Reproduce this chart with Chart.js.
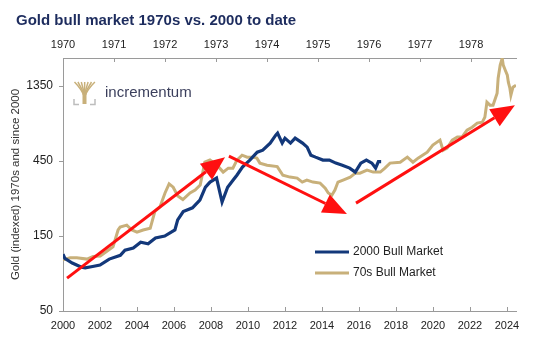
<!DOCTYPE html>
<html>
<head>
<meta charset="utf-8">
<script src="https://cdn.jsdelivr.net/npm/chart.js@4.4.0/dist/chart.umd.min.js"></script>
<style>
  html, body { margin: 0; padding: 0; background: #fff; }
</style>
</head>
<body>
<canvas id="chart" width="550" height="341"></canvas>
<script>
/* Gold bull market 1970s vs. 2000 to date (log scale) */
var chartTitle = 'Gold bull market 1970s vs. 2000 to date';
var yTitle = 'Gold (indexed) 1970s and since 2000';
var seriesNames = ['2000 Bull Market', '70s Bull Market'];

var yTicks = [50, 150, 450, 1350];
var bottomTicks = [2000, 2002, 2004, 2006, 2008, 2010, 2012, 2014, 2016, 2018, 2020, 2022, 2024];
var topTicks = [1970, 1971, 1972, 1973, 1974, 1975, 1976, 1977, 1978];

// 2000 bull market (bottom axis)
var blueYears = [2000.0, 2000.1, 2000.5, 2001.0, 2001.2, 2001.6, 2002.0, 2002.5, 2003.1, 2003.35,
  2003.8, 2004.2, 2004.6, 2005.0, 2005.5, 2006.05, 2006.2, 2006.5, 2007.0, 2007.4,
  2007.7, 2007.95, 2008.3, 2008.6, 2008.9, 2009.2, 2009.4, 2009.7, 2010.1, 2010.5,
  2010.8, 2011.2, 2011.5, 2011.6, 2011.85, 2012.0, 2012.3, 2012.55, 2012.95, 2013.2,
  2013.4, 2013.65, 2014.05, 2014.4, 2014.75, 2015.1, 2015.5, 2015.8, 2016.1, 2016.4,
  2016.7, 2016.9, 2017.05, 2017.2];
var blueValues = [115, 108, 101, 95, 94, 96, 98, 107, 113, 122,
  126, 137, 134, 146, 150, 164, 190, 215, 227, 254,
  307, 331, 351, 247, 307, 341, 366, 412, 457, 513,
  528, 586, 658, 678, 586, 630, 586, 630, 586, 552,
  491, 477, 457, 457, 437, 424, 406, 383, 437, 457,
  437, 406, 447, 447];

// 70s bull market (top axis)
var tanYears = [1970.00, 1970.14, 1970.27, 1970.47, 1970.59, 1970.73, 1970.86, 1970.98, 1971.08, 1971.12,
  1971.25, 1971.35, 1971.45, 1971.57, 1971.71, 1971.80, 1971.90, 1972.00, 1972.08, 1972.16,
  1972.25, 1972.35, 1972.49, 1972.59, 1972.69, 1972.78, 1972.88, 1973.02, 1973.14, 1973.24,
  1973.33, 1973.41, 1973.51, 1973.61, 1973.71, 1973.80, 1973.86, 1974.00, 1974.20, 1974.31,
  1974.45, 1974.59, 1974.69, 1974.78, 1974.90, 1975.04, 1975.14, 1975.20, 1975.27, 1975.33,
  1975.39, 1975.49, 1975.63, 1975.73, 1975.82, 1975.96, 1976.08, 1976.22, 1976.31, 1976.41,
  1976.61, 1976.75, 1976.86, 1976.96, 1977.14, 1977.25, 1977.39, 1977.45, 1977.53, 1977.63,
  1977.73, 1977.82, 1977.92, 1978.02, 1978.12, 1978.22, 1978.27, 1978.31, 1978.37, 1978.43,
  1978.51, 1978.53, 1978.57, 1978.61, 1978.63, 1978.67, 1978.71, 1978.73, 1978.76, 1978.78,
  1978.82, 1978.88];
var tanValues = [106, 109, 109, 107, 111, 112, 120, 128, 164, 171,
  176, 164, 159, 164, 168, 215, 230, 282, 322, 307,
  270, 256, 282, 294, 317, 443, 457, 424, 383, 406,
  406, 457, 491, 477, 477, 470, 437, 424, 415, 366,
  356, 351, 331, 341, 331, 326, 303, 282, 273, 294,
  331, 341, 356, 377, 377, 394, 383, 383, 406, 437,
  443, 477, 443, 470, 513, 569, 612, 528, 545, 612,
  640, 640, 708, 740, 785, 796, 857, 1068, 1022, 1022,
  1218, 1518, 1837, 2033, 1837, 1706, 1586, 1431, 1310, 1184,
  1330, 1370];

// red trend arrows (bottom-axis year, value)
var arrowFromYear = [2000.22, 2008.97, 2015.84];
var arrowFromValue = [81, 484, 243];
var arrowToYear = [2008.76, 2015.35, 2024.43];
var arrowToValue = [477, 207, 1022];

var FONT = '"Liberation Sans", Arial, sans-serif';
var BLUE = '#13387a';
var TAN = '#c8b07a';

function toPoints(xs, ys) {
  var out = [];
  for (var i = 0; i < xs.length; i++) out.push({ x: xs[i], y: ys[i] });
  return out;
}

function drawArrow(ctx, x0, y0, x1, y1) {
  var ang = Math.atan2(y1 - y0, x1 - x0), L = 24, W = 10;
  var bx = x1 - L * Math.cos(ang), by = y1 - L * Math.sin(ang);
  ctx.beginPath();
  ctx.moveTo(x0, y0);
  ctx.lineTo(bx, by);
  ctx.stroke();
  ctx.beginPath();
  ctx.moveTo(x1, y1);
  ctx.lineTo(bx + W * Math.sin(ang), by - W * Math.cos(ang));
  ctx.lineTo(bx - W * Math.sin(ang), by + W * Math.cos(ang));
  ctx.closePath();
  ctx.fill();
}

var decor = {
  id: 'decor',
  afterDraw: function(chart) {
    var ctx = chart.ctx, a = chart.chartArea;
    var sx = chart.scales.x, sx2 = chart.scales.x2, sy = chart.scales.y;
    ctx.save();

    /* タイトル */
    ctx.fillStyle = '#1d2c5e';
    ctx.font = 'bold 15px ' + FONT;
    ctx.textBaseline = 'alphabetic';
    ctx.textAlign = 'left';
    ctx.fillText(chartTitle, 16, 25);

    /* 内向きの目盛り */
    ctx.strokeStyle = '#9a9a9a';
    ctx.lineWidth = 1;
    bottomTicks.forEach(function(v) {
      var px = Math.round(sx.getPixelForValue(v)) + 0.5;
      ctx.beginPath(); ctx.moveTo(px, a.bottom); ctx.lineTo(px, a.bottom - 4); ctx.stroke();
    });
    topTicks.forEach(function(v) {
      var px = Math.round(sx2.getPixelForValue(v)) + 0.5;
      ctx.beginPath(); ctx.moveTo(px, a.top); ctx.lineTo(px, a.top + 4); ctx.stroke();
    });

    /* ロゴ */
    ctx.strokeStyle = TAN;
    ctx.lineWidth = 1.5;
    for (var i = 0; i < 7; i++) {
      var tx = 74.5 + i * 3.4;
      ctx.beginPath();
      ctx.moveTo(84.5, 97);
      ctx.quadraticCurveTo(84.5 + (tx - 84.5) * 0.3, 89, tx, 82);
      ctx.stroke();
    }
    ctx.fillStyle = TAN;
    ctx.fillRect(82.5, 94, 4, 10);
    ctx.strokeStyle = '#bdbdbd';
    ctx.beginPath(); ctx.moveTo(74, 99); ctx.lineTo(74, 104.5); ctx.lineTo(79, 104.5); ctx.stroke();
    ctx.beginPath(); ctx.moveTo(95, 99); ctx.lineTo(95, 104.5); ctx.lineTo(90, 104.5); ctx.stroke();
    ctx.fillStyle = '#3b3f5c';
    ctx.font = '15px ' + FONT;
    ctx.textBaseline = 'middle';
    ctx.fillText('incrementum', 105, 93);

    /* 凡例 */
    var colors = [BLUE, TAN];
    ctx.font = '12px ' + FONT;
    for (var j = 0; j < seriesNames.length; j++) {
      var ly = 252 + j * 21;
      ctx.strokeStyle = colors[j];
      ctx.lineWidth = 3;
      ctx.beginPath(); ctx.moveTo(315, ly); ctx.lineTo(349, ly); ctx.stroke();
      ctx.fillStyle = '#222';
      ctx.fillText(seriesNames[j], 353, ly);
    }

    /* 矢印 */
    ctx.strokeStyle = '#ff1010';
    ctx.fillStyle = '#ff1010';
    ctx.lineWidth = 3;
    for (var k = 0; k < arrowFromYear.length; k++) {
      drawArrow(ctx,
        sx.getPixelForValue(arrowFromYear[k]), sy.getPixelForValue(arrowFromValue[k]),
        sx.getPixelForValue(arrowToYear[k]), sy.getPixelForValue(arrowToValue[k]));
    }
    ctx.restore();
  }
};

function start() {
  var ctx = document.getElementById('chart');
  new Chart(ctx, {
    type: 'line',
    data: {
      datasets: [{
        label: seriesNames[0],
        data: toPoints(blueYears, blueValues),
        xAxisID: 'x',
        borderColor: BLUE,
        borderWidth: 3.2,
        pointRadius: 0,
        tension: 0
      }, {
        label: seriesNames[1],
        data: toPoints(tanYears, tanValues),
        xAxisID: 'x2',
        borderColor: TAN,
        borderWidth: 3,
        pointRadius: 0,
        tension: 0
      }]
    },
    options: {
      responsive: false,
      animation: false,
      layout: { padding: { left: 9, right: 34, top: 0, bottom: 0 } },
      plugins: {
        legend: { display: false },
        title: { display: false },
        tooltip: { enabled: false }
      },
      scales: {
        x: {
          type: 'linear',
          position: 'bottom',
          min: 2000,
          max: 2024.49,
          afterBuildTicks: function(s) { s.ticks = bottomTicks.map(function(v) { return { value: v }; }); },
          afterFit: function(s) { s.height = 30; },
          grid: { drawOnChartArea: false, drawTicks: false },
          border: { color: '#9a9a9a' },
          ticks: {
            padding: 8,
            color: '#222',
            font: { family: FONT, size: 11 },
            maxRotation: 0,
            callback: function(v) { return String(v); }
          }
        },
        x2: {
          type: 'linear',
          position: 'top',
          min: 1970,
          max: 1978.88,
          afterBuildTicks: function(s) { s.ticks = topTicks.map(function(v) { return { value: v }; }); },
          afterFit: function(s) { s.height = 58; },
          grid: { drawOnChartArea: false, drawTicks: false },
          border: { color: '#9a9a9a' },
          ticks: {
            padding: 6,
            color: '#222',
            font: { family: FONT, size: 11 },
            maxRotation: 0,
            callback: function(v) { return String(v); }
          }
        },
        y: {
          type: 'logarithmic',
          min: 50,
          max: 2040,
          afterBuildTicks: function(s) { s.ticks = yTicks.map(function(v) { return { value: v }; }); },
          afterFit: function(s) { s.width = 54; },
          grid: { drawOnChartArea: false, drawTicks: true, tickLength: 4, color: '#9a9a9a' },
          border: { color: '#9a9a9a' },
          title: {
            display: true,
            text: yTitle,
            color: '#333',
            font: { family: FONT, size: 11.5 },
            padding: { top: 0, bottom: 0 }
          },
          ticks: {
            padding: 6,
            color: '#222',
            font: { family: FONT, size: 12 },
            callback: function(v) { return String(v); }
          }
        }
      }
    },
    plugins: [decor]
  });
}

start();
</script>
</body>
</html>
